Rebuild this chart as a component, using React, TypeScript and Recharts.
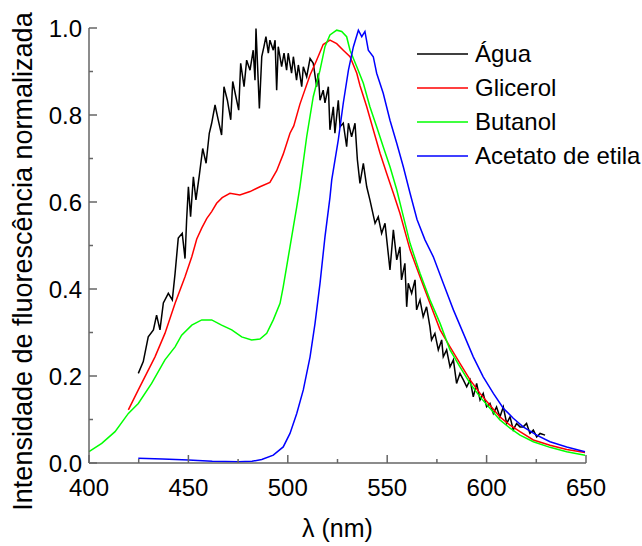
import React from 'react';
import { LineChart, Line, XAxis, YAxis, Legend } from 'recharts';

// [wavelength nm, normalized intensity]
const agua: [number, number][] = [
  [424.8, 0.206], [427.3, 0.233], [429.8, 0.29], [432.4, 0.306], [434, 0.34], [435.7, 0.306], [437.4, 0.368],
  [439.9, 0.39], [441.9, 0.375], [443.3, 0.436], [444.9, 0.517], [446.9, 0.528], [448.3, 0.47], [449.1, 0.558],
  [450, 0.635], [451.1, 0.566], [452.5, 0.658], [453.8, 0.605], [455.5, 0.662], [457.2, 0.723], [458.9, 0.689],
  [460.5, 0.758], [461.7, 0.781], [463.4, 0.823], [465, 0.789], [466.7, 0.754], [467.9, 0.865], [469.6, 0.834],
  [471.3, 0.789], [472.3, 0.877], [473.9, 0.842], [475.3, 0.811], [476.3, 0.919], [478, 0.865], [479.3, 0.926],
  [481, 0.903], [482.6, 0.949], [483.5, 0.88], [484, 0.999], [485.7, 0.815], [486.9, 0.934], [488, 0.957],
  [489, 0.98], [490.2, 0.942], [491, 0.972], [492.7, 0.949], [493.6, 0.972], [494.4, 0.857], [495.2, 0.957],
  [496.9, 0.911], [498.1, 0.942], [499.4, 0.903], [500.2, 0.942], [501.9, 0.896], [502.8, 0.934], [504.4, 0.88],
  [505.3, 0.915], [507, 0.865], [507.8, 0.911], [509.5, 0.888], [511.2, 0.93], [512.8, 0.919], [514.5, 0.865],
  [515.3, 0.896], [516.2, 0.834], [517.8, 0.857], [518.7, 0.828], [520.4, 0.865], [521.2, 0.766], [522.9, 0.819],
  [523.7, 0.758], [525.4, 0.834], [526.3, 0.773], [527.9, 0.781], [529.6, 0.727], [530.5, 0.781], [532.1, 0.75],
  [533.8, 0.781], [535, 0.697], [536.3, 0.643], [538, 0.689], [539.7, 0.635], [541.3, 0.605], [543.9, 0.551],
  [545.5, 0.566], [547.2, 0.528], [548.9, 0.551], [551.4, 0.444], [553.1, 0.536], [554.8, 0.467], [556.4, 0.497],
  [557.2, 0.421], [558.9, 0.459], [559.8, 0.359], [560.6, 0.413], [562.3, 0.39], [564, 0.421], [564.8, 0.352],
  [566.5, 0.375], [568.1, 0.336], [569.8, 0.359], [571.5, 0.313], [572.3, 0.283], [574, 0.298], [575.7, 0.26],
  [577.4, 0.283], [578.2, 0.244], [579.9, 0.26], [581.6, 0.221], [583.3, 0.237], [584.9, 0.183], [586.6, 0.206],
  [588.3, 0.191], [590, 0.175], [591.7, 0.191], [593.3, 0.152], [595, 0.183], [596.7, 0.145], [598.3, 0.16],
  [600, 0.129], [601.7, 0.137], [603.4, 0.114], [605, 0.129], [606.7, 0.106], [608.4, 0.129], [610.1, 0.091],
  [611.8, 0.106], [613.4, 0.076], [615.1, 0.091], [616.8, 0.083], [618.4, 0.083], [620.1, 0.091], [621.8, 0.068],
  [623.5, 0.076], [625.2, 0.06], [626.9, 0.068], [629.4, 0.064],
];

const glicerol: [number, number][] = [
  [419.8, 0.122], [424.8, 0.168], [429, 0.206], [433.2, 0.244], [438.2, 0.298], [443.3, 0.367], [448.3, 0.428],
  [451.7, 0.474], [454.2, 0.515], [456.7, 0.54], [459.2, 0.562], [461.7, 0.578], [464.2, 0.597], [467, 0.61],
  [470.9, 0.62], [475.9, 0.616], [481, 0.624], [486, 0.635], [491, 0.645], [494.4, 0.672], [497.7, 0.71],
  [501.1, 0.758], [503, 0.775], [506.1, 0.825], [511.2, 0.892], [514.5, 0.926], [517.8, 0.962], [521.2, 0.972],
  [524.6, 0.964], [527.9, 0.949], [531.3, 0.934], [534.7, 0.896], [536.3, 0.868], [539.7, 0.819], [543, 0.766],
  [546.4, 0.712], [549.7, 0.666], [553.1, 0.62], [556.4, 0.574], [561.5, 0.49], [566.5, 0.428], [571.5, 0.367],
  [576.6, 0.306], [581.6, 0.267], [586.6, 0.229], [591.7, 0.191], [596.7, 0.16], [601.7, 0.133], [606.7, 0.106],
  [611.8, 0.087], [616.8, 0.072], [623.5, 0.053], [631.9, 0.041], [640.3, 0.031], [649.5, 0.024],
];

const butanol: [number, number][] = [
  [400, 0.026], [406.4, 0.045], [413.1, 0.072], [419.8, 0.114], [424.8, 0.137], [431.5, 0.183], [438.2, 0.237],
  [443.3, 0.267], [446.6, 0.294], [451.7, 0.317], [456.7, 0.329], [461.7, 0.329], [466.7, 0.317], [471.8, 0.306],
  [476.8, 0.29], [481.8, 0.283], [486, 0.285], [489.4, 0.298], [492.7, 0.329], [496.1, 0.367], [497.7, 0.405],
  [499.4, 0.451], [501.1, 0.497], [502.8, 0.543], [504.5, 0.589], [506.1, 0.635], [509.5, 0.75], [512.8, 0.842],
  [516.2, 0.903], [518.7, 0.957], [521.2, 0.984], [524.6, 0.995], [527.1, 0.992], [529.6, 0.98], [531.3, 0.949],
  [534.7, 0.911], [538, 0.873], [541.3, 0.819], [544.7, 0.773], [548, 0.727], [551.4, 0.681], [554.8, 0.628],
  [557.3, 0.582], [561.5, 0.505], [566.5, 0.436], [571.5, 0.375], [576.6, 0.321], [581.6, 0.26], [586.6, 0.221],
  [591.7, 0.183], [596.7, 0.152], [601.7, 0.126], [606.7, 0.099], [611.8, 0.08], [616.8, 0.064], [623.5, 0.049],
  [631.9, 0.036], [640.3, 0.026], [649.5, 0.018],
];

const acetato: [number, number][] = [
  [424.8, 0.011], [437, 0.009], [450, 0.007], [462, 0.004], [475.1, 0.003], [482, 0.004], [486.9, 0.008],
  [492.7, 0.018], [497.7, 0.037], [501.1, 0.068], [504.5, 0.114], [507.8, 0.168], [511.2, 0.244], [513.7, 0.321],
  [516.2, 0.413], [518.7, 0.52], [521.2, 0.61], [522.1, 0.651], [525.4, 0.743], [527.9, 0.827], [530.5, 0.903],
  [533, 0.957], [535.5, 0.995], [537.2, 0.98], [538.8, 0.992], [540.5, 0.949], [543, 0.934], [544.7, 0.896],
  [548, 0.85], [551.4, 0.788], [554.8, 0.735], [558.1, 0.681], [561.5, 0.62], [565, 0.56], [569, 0.513],
  [573.2, 0.474], [578.2, 0.413], [583.3, 0.352], [588.3, 0.298], [593.3, 0.244], [598.3, 0.198], [603.4, 0.16],
  [608.4, 0.126], [613.4, 0.103], [618.4, 0.083], [625.2, 0.064], [631.9, 0.049], [640.3, 0.037], [649.5, 0.026],
];

const xTicks = [400, 425, 450, 475, 500, 525, 550, 575, 600, 625, 650];
const yTicks = [0, 0.1, 0.2, 0.3, 0.4, 0.5, 0.6, 0.7, 0.8, 0.9, 1.0];

const series = [
  { name: 'Água', color: '#000000', points: agua },
  { name: 'Glicerol', color: '#ff0000', points: glicerol },
  { name: 'Butanol', color: '#00ff00', points: butanol },
  { name: 'Acetato de etila', color: '#0000ff', points: acetato },
];
const seriesOrder = series.map((s) => s.name);

const FONT = '"Liberation Sans", Arial, sans-serif';
const AXIS = '#666666';

const toRows = (pts: [number, number][]) => pts.map(([x, y]) => ({ x, y }));

const XTick = (props: any) => {
  const { x, y, payload } = props;
  const major = payload.value % 50 === 0;
  return (
    <g>
      <line x1={x} x2={x} y1={y} y2={y - (major ? 8 : 4)} stroke={AXIS} strokeWidth={1.5} />
      {major && (
        <text x={x} y={y + 33} textAnchor="middle" fontSize={24} fill="#000" fontFamily={FONT}>
          {payload.value}
        </text>
      )}
    </g>
  );
};

const YTick = (props: any) => {
  const { x, y, payload } = props;
  const major = Math.round(payload.value * 10) % 2 === 0;
  return (
    <g>
      <line x1={x} x2={x + (major ? 8 : 4)} y1={y} y2={y} stroke={AXIS} strokeWidth={1.5} />
      {major && (
        <text x={x - 7} y={y} dy="0.36em" textAnchor="end" fontSize={24} fill="#000" fontFamily={FONT}>
          {payload.value.toFixed(1)}
        </text>
      )}
    </g>
  );
};

const renderLegend = (props: any) => {
  // keep the plotting order, not recharts' alphabetical sort
  const items = [...props.payload].sort((a: any, b: any) => seriesOrder.indexOf(a.value) - seriesOrder.indexOf(b.value));
  return (
    <div style={{ fontFamily: FONT }}>
      {items.map((p: any) => (
        <div key={p.value} style={{ display: 'flex', alignItems: 'center', height: 34 }}>
          <svg width={51} height={4}>
            <line x1={0} x2={51} y1={2} y2={2} stroke={p.color} strokeWidth={1.5} />
          </svg>
          <span style={{ marginLeft: 7, fontSize: 24, lineHeight: '34px', color: '#000', whiteSpace: 'nowrap' }}>{p.value}</span>
        </div>
      ))}
    </div>
  );
};

export default function App() {
  return (
    <div style={{ position: 'absolute', left: 0, top: 0, background: '#fff' }}>
      <LineChart width={642} height={546} margin={{ top: 28, right: 56, bottom: 0, left: 0 }} style={{ fontFamily: FONT }}>
        <XAxis
          dataKey="x"
          type="number"
          domain={[400, 650]}
          ticks={xTicks}
          interval={0}
          height={83}
          tickSize={0}
          tickMargin={0}
          tickLine={false}
          tick={<XTick />}
          axisLine={{ stroke: AXIS, strokeWidth: 1.5 }}
          label={{
            content: (lp: any) => {
              const vb = lp.viewBox;
              return (
                <text x={vb.x + vb.width / 2} y={vb.y + 74} textAnchor="middle" fontSize={25} fill="#000" fontFamily={FONT}>
                  λ (nm)
                </text>
              );
            },
          }}
        />
        <YAxis
          type="number"
          domain={[0, 1]}
          ticks={yTicks}
          interval={0}
          width={89}
          tickSize={0}
          tickMargin={0}
          tickLine={false}
          tick={<YTick />}
          axisLine={{ stroke: AXIS, strokeWidth: 1.5 }}
          label={{
            content: (lp: any) => {
              const vb = lp.viewBox;
              const cx = vb.x + 32;
              const cy = vb.y + vb.height / 2 + 16;
              return (
                <text x={cx} y={cy} transform={`rotate(-90, ${cx}, ${cy})`} textAnchor="middle" fontSize={27} fill="#000" fontFamily={FONT}>
                  Intensidade de fluorescência normalizada
                </text>
              );
            },
          }}
        />
        <Legend
          layout="horizontal"
          align="center"
          verticalAlign="middle"
          content={renderLegend}
          wrapperStyle={{ position: 'absolute', left: 417, top: 37, width: 225, height: 136 }}
        />
        {series.map((s) => (
          <Line
            key={s.name}
            data={toRows(s.points)}
            dataKey="y"
            name={s.name}
            type="linear"
            stroke={s.color}
            strokeWidth={1.5}
            dot={false}
            activeDot={false}
            isAnimationActive={false}
          />
        ))}
      </LineChart>
    </div>
  );
}
